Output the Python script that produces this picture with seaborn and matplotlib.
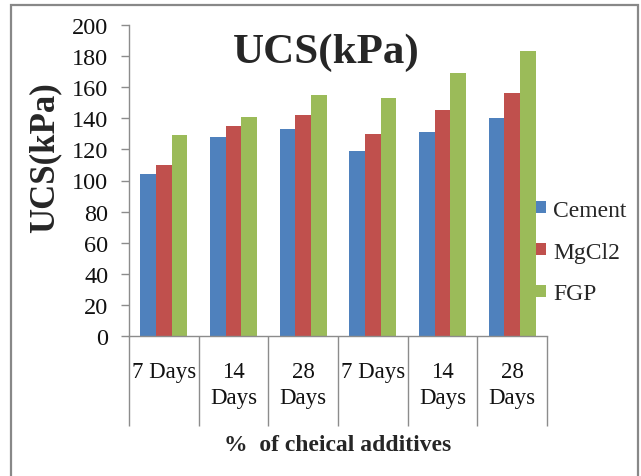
import numpy as np
import pandas as pd
import matplotlib
matplotlib.use("Agg")
import matplotlib.pyplot as plt
from matplotlib.patches import Rectangle
import seaborn as sns

# Curing periods (two sets of additive dosages, each cured 7/14/28 days)
categories = ["7 Days", "14\nDays", "28\nDays", "7 Days", "14\nDays", "28\nDays"]
additives = ["Cement", "MgCl2", "FGP"]
cement = [104, 128, 133, 119, 131, 140]
mgcl2 = [110, 135, 142, 130, 145, 156]
fgp = [129, 141, 155, 153, 169, 183]
y_ticks = [0, 20, 40, 60, 80, 100, 120, 140, 160, 180, 200]
colors = ["#4F81BD", "#C0504D", "#9BBB59"]

sns.set_theme(style="white")
plt.rcParams["font.family"] = ["Liberation Serif", "DejaVu Serif"]

rows = []
for name, vals in zip(additives, [cement, mgcl2, fgp]):
    for i, v in enumerate(vals):
        rows.append({"group": i, "additive": name, "ucs": v})
df = pd.DataFrame(rows)

fig = plt.figure(figsize=(6.41, 4.77), dpi=100)
ax = fig.add_axes([129 / 641, 1 - 337.3 / 477, (547 - 129) / 641, (337.3 - 25.7) / 477])

sns.barplot(data=df, x="group", y="ucs", hue="additive", hue_order=additives,
            palette=colors, saturation=1, width=0.675, linewidth=0, ax=ax)

grey = "#8c8c8c"
ax.set_xlim(-0.5, len(categories) - 0.5)
ax.set_ylim(0, 200)
ax.set_yticks(y_ticks)
ax.set_yticklabels([str(t) for t in y_ticks], fontsize=17.5, color="#111111")
ax.tick_params(axis="y", direction="out", length=6, width=1, color=grey, pad=9, left=True)

# Category boundaries drawn as long downward ticks; names centred between them
ax.set_xticks(np.arange(-0.5, len(categories), 1.0))
ax.set_xticklabels([""] * (len(categories) + 1))
ax.tick_params(axis="x", which="major", direction="out", length=65, width=1, color=grey, bottom=True)
ax.set_xticks(np.arange(len(categories)), minor=True)
ax.set_xticklabels(categories, minor=True, fontsize=16.5, color="#111111", linespacing=1.28, va="top")
ax.tick_params(axis="x", which="minor", length=0, pad=18)

for side in ["top", "right"]:
    ax.spines[side].set_visible(False)
for side in ["left", "bottom"]:
    ax.spines[side].set_color(grey)
    ax.spines[side].set_linewidth(1)

ax.set_xlabel("")
ax.set_ylabel("")

leg = ax.legend(loc="center left", bbox_to_anchor=(536 / 641, 1 - 253 / 477),
                bbox_transform=fig.transFigure, frameon=False, fontsize=17,
                handlelength=0.42, handleheight=0.42, handletextpad=0.3,
                labelspacing=0.88, borderpad=0, borderaxespad=0)

fig.text(326 / 641, 1 - 53 / 477, "UCS(kPa)", fontsize=31, fontweight="bold",
         ha="center", va="center")
fig.text(45 / 641, 1 - 158 / 477, "UCS(kPa)", fontsize=25, fontweight="bold",
         rotation=90, ha="center", va="center")
fig.text(338 / 641, 1 - 446 / 477, "%  of cheical additives", fontsize=17,
         fontweight="bold", ha="center", va="center")

# Chart frame (open at the bottom edge of the image)
fig.patches.append(Rectangle((11 / 641, -0.05), (638 - 11) / 641, 1.05 - 6 / 477,
                             transform=fig.transFigure, fill=False,
                             edgecolor="#888888", linewidth=1.6, zorder=10))

fig.savefig("out.png", dpi=100)
